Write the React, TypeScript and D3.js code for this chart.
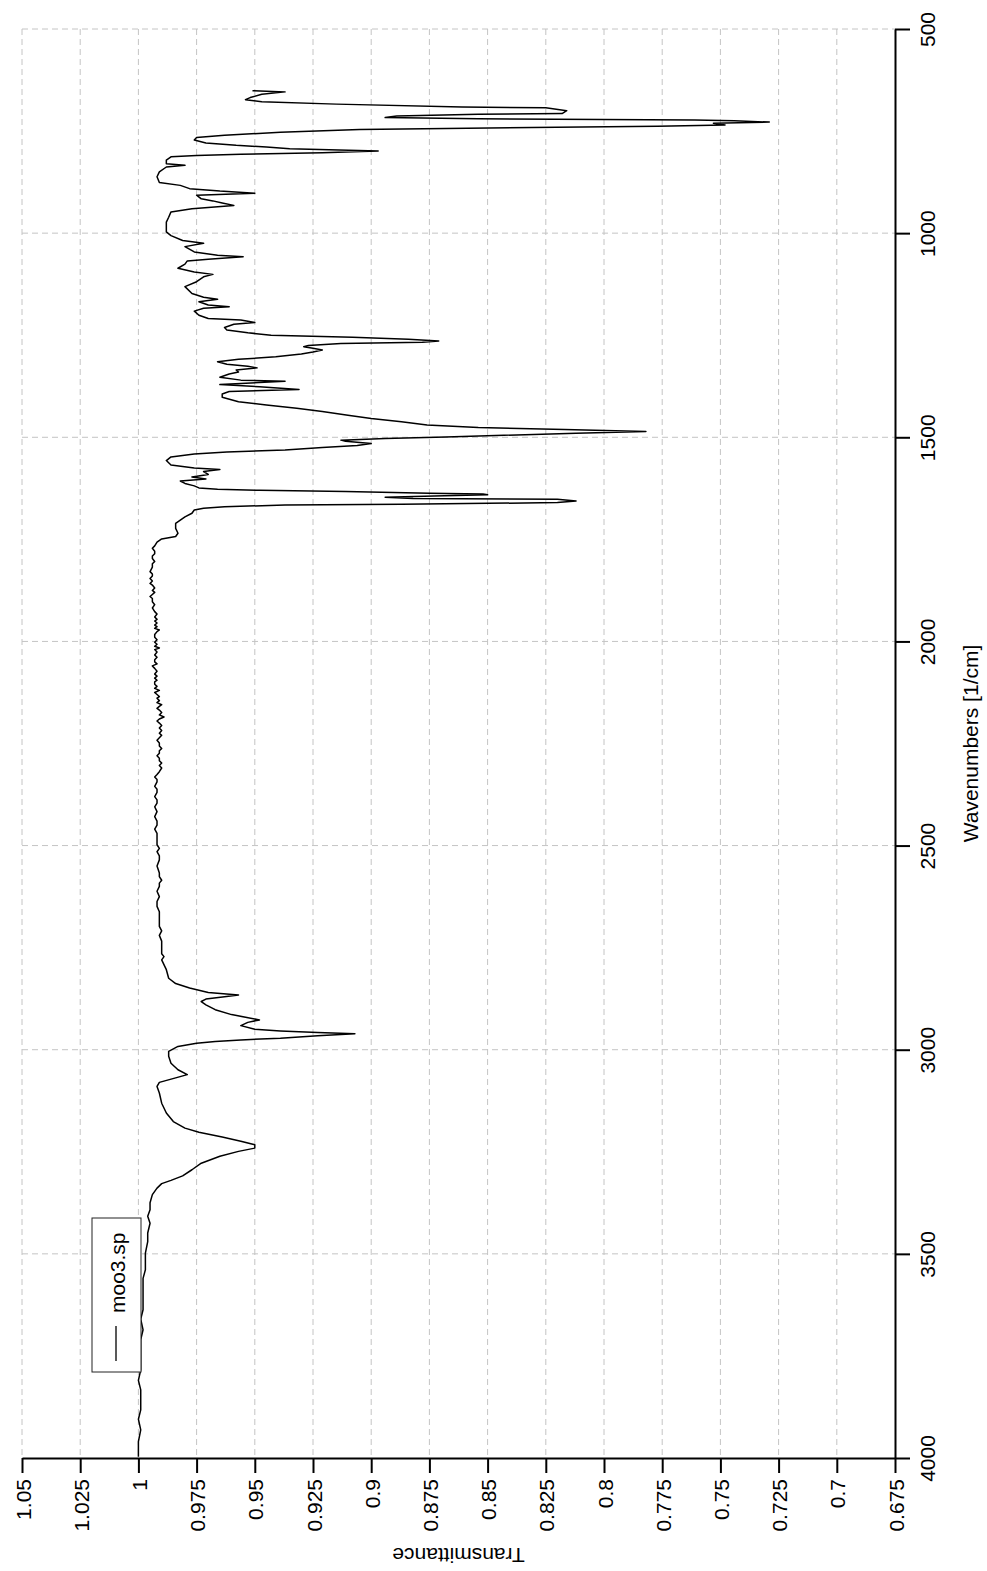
import React, { useRef, useEffect } from 'react';
import * as d3 from 'd3';

// IR spectrum of moo3.sp as [wavenumber, transmittance]
const fingerprint: [number, number][] = [
  [651, 0.951], [654, 0.937], [660, 0.947], [668, 0.952], [673, 0.954], [678, 0.947],
  [684, 0.915], [691, 0.861], [693, 0.825], [700, 0.816], [707, 0.818], [709, 0.854],
  [713, 0.889], [717, 0.894], [720, 0.854], [723, 0.761], [725, 0.744], [728, 0.729],
  [731, 0.753], [735, 0.748], [738, 0.777], [741, 0.831], [746, 0.905], [753, 0.939],
  [760, 0.963], [766, 0.975], [772, 0.976], [779, 0.971], [785, 0.958], [789, 0.945],
  [793, 0.935], [799, 0.897], [803, 0.921], [807, 0.956], [810, 0.975], [813, 0.986],
  [821, 0.988], [830, 0.988], [834, 0.980], [838, 0.988], [850, 0.991], [862, 0.992],
  [876, 0.991], [883, 0.982], [891, 0.978], [897, 0.965], [902, 0.950], [907, 0.975],
  [916, 0.973], [921, 0.968], [926, 0.964], [932, 0.959], [940, 0.977], [948, 0.986],
  [961, 0.987], [973, 0.988], [985, 0.988], [997, 0.988], [1006, 0.986], [1018, 0.981],
];

const midRange: [number, number][] = [
  [1025, 0.972], [1033, 0.980], [1046, 0.976], [1054, 0.966], [1058, 0.955], [1064, 0.970],
  [1068, 0.979], [1076, 0.980], [1086, 0.983], [1095, 0.976], [1101, 0.968], [1107, 0.972],
  [1119, 0.975], [1131, 0.980], [1148, 0.977], [1157, 0.972], [1162, 0.966], [1168, 0.974],
  [1176, 0.970], [1180, 0.961], [1184, 0.972], [1191, 0.976], [1201, 0.974], [1209, 0.970],
  [1213, 0.956], [1219, 0.950], [1223, 0.959], [1231, 0.963], [1237, 0.962], [1244, 0.953],
  [1250, 0.943], [1255, 0.908], [1260, 0.884], [1264, 0.871], [1267, 0.878], [1270, 0.913],
  [1275, 0.927], [1278, 0.929], [1282, 0.925], [1286, 0.921], [1291, 0.925], [1296, 0.930],
  [1303, 0.941], [1309, 0.957], [1315, 0.966], [1321, 0.962], [1326, 0.953], [1330, 0.949],
  [1335, 0.958], [1340, 0.957], [1345, 0.961], [1353, 0.965], [1360, 0.956], [1363, 0.937],
  [1368, 0.956], [1371, 0.965], [1376, 0.948], [1383, 0.931], [1388, 0.961], [1394, 0.964],
  [1402, 0.964], [1413, 0.957], [1421, 0.945], [1429, 0.932], [1437, 0.921], [1446, 0.910],
  [1454, 0.900], [1462, 0.887], [1470, 0.876], [1476, 0.854], [1481, 0.817], [1486, 0.782],
  [1490, 0.812], [1495, 0.843], [1499, 0.868], [1503, 0.894], [1507, 0.913], [1510, 0.911],
  [1515, 0.900], [1520, 0.906], [1525, 0.921], [1531, 0.937], [1536, 0.962], [1541, 0.976],
  [1548, 0.986], [1557, 0.988],
];

const carbonylRange: [number, number][] = [
  [1568, 0.986], [1575, 0.976], [1579, 0.965], [1584, 0.972], [1591, 0.970], [1597, 0.977],
  [1602, 0.971], [1607, 0.982], [1613, 0.980], [1619, 0.976], [1624, 0.974], [1627, 0.966],
  [1630, 0.948], [1633, 0.911], [1637, 0.875], [1639, 0.852], [1641, 0.850], [1644, 0.873],
  [1647, 0.894], [1650, 0.882], [1652, 0.820], [1656, 0.812], [1660, 0.820], [1664, 0.887],
  [1666, 0.937], [1670, 0.963], [1674, 0.972], [1678, 0.976], [1686, 0.977], [1695, 0.980],
  [1703, 0.982], [1711, 0.984], [1723, 0.984], [1735, 0.983], [1743, 0.984], [1749, 0.990],
  [1757, 0.992],
];

const flatRange: [number, number][] = [
  [1766, 0.993], [1772, 0.994], [1779, 0.993], [1785, 0.993], [1791, 0.994], [1797, 0.994],
  [1804, 0.993], [1810, 0.994], [1818, 0.994], [1829, 0.995], [1835, 0.994], [1840, 0.994],
  [1846, 0.995], [1852, 0.994], [1858, 0.995], [1862, 0.994], [1869, 0.993], [1875, 0.994],
  [1880, 0.993], [1885, 0.994], [1890, 0.995], [1895, 0.994], [1903, 0.994], [1910, 0.993],
  [1918, 0.994], [1927, 0.993], [1933, 0.992], [1940, 0.993], [1946, 0.992], [1950, 0.993],
  [1955, 0.992], [1960, 0.993], [1964, 0.992], [1968, 0.993], [1972, 0.991], [1976, 0.992],
  [1983, 0.993], [1990, 0.993], [1996, 0.992], [2002, 0.993], [2007, 0.992], [2012, 0.993],
  [2016, 0.991], [2020, 0.993], [2026, 0.992], [2033, 0.993], [2039, 0.992], [2045, 0.993],
  [2050, 0.993], [2055, 0.992], [2060, 0.994], [2066, 0.993], [2073, 0.992], [2080, 0.993],
  [2085, 0.992], [2090, 0.993], [2095, 0.992], [2099, 0.993], [2105, 0.993], [2110, 0.992],
  [2115, 0.993], [2120, 0.991], [2125, 0.993], [2130, 0.992], [2135, 0.991], [2139, 0.992],
  [2145, 0.991], [2150, 0.992], [2155, 0.990], [2159, 0.991], [2164, 0.992], [2168, 0.991],
  [2174, 0.990], [2180, 0.991], [2185, 0.989], [2190, 0.991], [2195, 0.992], [2200, 0.991],
  [2206, 0.990], [2212, 0.991], [2218, 0.990], [2225, 0.991], [2230, 0.990], [2236, 0.991],
  [2242, 0.992], [2249, 0.991], [2256, 0.991], [2262, 0.990], [2268, 0.991], [2274, 0.991],
  [2280, 0.992], [2286, 0.991], [2292, 0.991], [2298, 0.990], [2304, 0.991], [2310, 0.990],
  [2319, 0.991], [2326, 0.992], [2332, 0.993], [2338, 0.992], [2344, 0.992], [2355, 0.993],
  [2362, 0.992], [2370, 0.992], [2380, 0.993], [2388, 0.992], [2396, 0.992], [2405, 0.993],
  [2417, 0.992], [2429, 0.993], [2440, 0.992], [2450, 0.992], [2460, 0.993], [2470, 0.992],
  [2485, 0.992], [2498, 0.992], [2507, 0.991], [2515, 0.992], [2525, 0.991], [2535, 0.991],
  [2550, 0.992], [2567, 0.991], [2576, 0.991], [2585, 0.990], [2592, 0.991], [2600, 0.991],
  [2612, 0.992], [2625, 0.991], [2637, 0.992], [2649, 0.992], [2662, 0.991], [2675, 0.991],
  [2687, 0.991], [2698, 0.991], [2709, 0.990], [2720, 0.991], [2734, 0.990], [2747, 0.990],
  [2757, 0.990], [2765, 0.990], [2772, 0.989], [2780, 0.990],
];

const chRange: [number, number][] = [
  [2804, 0.988], [2825, 0.987], [2838, 0.984], [2849, 0.978], [2860, 0.970], [2866, 0.957],
  [2870, 0.963], [2876, 0.971], [2882, 0.973], [2890, 0.971], [2902, 0.967], [2914, 0.960],
  [2927, 0.948], [2933, 0.953], [2941, 0.956], [2950, 0.950], [2954, 0.939], [2958, 0.923],
  [2961, 0.907], [2966, 0.923], [2972, 0.939], [2976, 0.956], [2980, 0.967], [2984, 0.975],
  [2992, 0.983], [3004, 0.987], [3016, 0.987], [3033, 0.986], [3049, 0.983], [3061, 0.979],
  [3069, 0.984], [3080, 0.991], [3090, 0.992], [3106, 0.991], [3131, 0.990], [3155, 0.988],
];

const ohRange: [number, number][] = [
  [3176, 0.985], [3192, 0.980], [3202, 0.974], [3214, 0.964], [3224, 0.956], [3233, 0.950],
  [3241, 0.950], [3249, 0.957], [3261, 0.965], [3278, 0.973], [3294, 0.977], [3309, 0.981],
  [3320, 0.986], [3328, 0.990], [3339, 0.992], [3355, 0.994], [3375, 0.995], [3392, 0.995],
  [3408, 0.996], [3425, 0.995], [3449, 0.996], [3470, 0.996], [3498, 0.997], [3515, 0.997],
  [3539, 0.997], [3560, 0.998], [3588, 0.998], [3610, 0.998], [3637, 0.998], [3660, 0.999],
  [3686, 0.998], [3710, 0.999], [3735, 0.999], [3760, 0.999], [3784, 0.999], [3810, 1.000],
  [3833, 0.999], [3860, 0.999], [3882, 0.999], [3905, 1.000], [3931, 0.999], [3960, 1.000],
  [3997, 1.000],
];

const waveTicks = [500, 1000, 1500, 2000, 2500, 3000, 3500, 4000];
const transTicks = [1.05, 1.025, 1, 0.975, 0.95, 0.925, 0.9, 0.875, 0.85, 0.825, 0.8, 0.775, 0.75, 0.725, 0.7, 0.675];
const seriesName = 'moo3.sp';

const App = () => {
  const svgRef = useRef<SVGSVGElement>(null);
  const width = 987;
  const height = 1571;
  const font = '"Liberation Sans", Arial, sans-serif';

  useEffect(() => {
    const svg = d3.select(svgRef.current);
    svg.selectAll('*').remove();

    const y = d3.scaleLinear().domain([500, 4000]).range([29, 1458]);
    const x = d3.scaleLinear().domain([1.05, 0.675]).range([22, 895]);

    // grid
    const grid = svg.append('g').attr('stroke', '#c4c4c4').attr('stroke-dasharray', '6,4').attr('stroke-width', 1);
    grid.selectAll('line.v')
      .data(transTicks.slice(0, -1))
      .enter().append('line')
      .attr('x1', d => x(d)).attr('x2', d => x(d))
      .attr('y1', y(500)).attr('y2', y(4000));
    grid.selectAll('line.h')
      .data(waveTicks.slice(0, -1))
      .enter().append('line')
      .attr('y1', d => y(d)).attr('y2', d => y(d))
      .attr('x1', x(1.05)).attr('x2', x(0.675));

    // spectrum
    const data = [...fingerprint, ...midRange, ...carbonylRange, ...flatRange, ...chRange, ...ohRange];
    const line = d3.line<[number, number]>()
      .x(d => x(d[1]))
      .y(d => y(d[0]));
    svg.append('path')
      .datum(data)
      .attr('d', line)
      .attr('fill', 'none')
      .attr('stroke', '#000')
      .attr('stroke-width', 1.5)
      .attr('stroke-linejoin', 'round');

    // right axis (wavenumbers)
    const right = svg.append('g')
      .attr('transform', `translate(${x(0.675)},0)`)
      .call(d3.axisRight(y).tickValues(waveTicks).tickSize(15).tickSizeOuter(0).tickFormat(d => String(d)));
    right.select('.domain').attr('stroke-width', 2);
    right.selectAll('.tick line').attr('stroke-width', 2);
    right.selectAll('.tick text')
      .attr('x', 0).attr('y', 0).attr('dy', null)
      .attr('transform', 'translate(40,0) rotate(-90)')
      .attr('text-anchor', 'middle')
      .style('font-family', font).style('font-size', '21px').attr('fill', '#000');

    // bottom axis (transmittance)
    const bottom = svg.append('g')
      .attr('transform', `translate(0,${y(4000)})`)
      .call(d3.axisBottom(x).tickValues(transTicks).tickSize(15).tickSizeOuter(0).tickFormat(d => String(d)));
    bottom.select('.domain').attr('stroke-width', 2);
    bottom.selectAll('.tick line').attr('stroke-width', 2);
    bottom.selectAll('.tick text')
      .attr('x', 0).attr('y', 0).attr('dy', null)
      .attr('transform', 'translate(8,21) rotate(-90)')
      .attr('text-anchor', 'end')
      .style('font-family', font).style('font-size', '21px').attr('fill', '#000');

    // axis titles
    svg.append('text')
      .attr('transform', `translate(978,${(y(500) + y(4000)) / 2}) rotate(-90)`)
      .attr('text-anchor', 'middle')
      .style('font-family', font).style('font-size', '21px')
      .text('Wavenumbers [1/cm]');
    svg.append('text')
      .attr('transform', `translate(${(x(1.05) + x(0.675)) / 2},1548) rotate(180)`)
      .attr('text-anchor', 'middle')
      .style('font-family', font).style('font-size', '21px')
      .text('Transmittance');

    // legend
    const legend = svg.append('g');
    legend.append('rect')
      .attr('x', 92).attr('y', 1218).attr('width', 49).attr('height', 154)
      .attr('fill', '#fff').attr('stroke', '#222').attr('stroke-width', 1);
    legend.append('line')
      .attr('x1', 116).attr('x2', 116).attr('y1', 1326).attr('y2', 1361)
      .attr('stroke', '#222').attr('stroke-width', 1.5);
    legend.append('text')
      .attr('transform', 'translate(125,1313) rotate(-90)')
      .style('font-family', font).style('font-size', '21px')
      .text(seriesName);
  }, []);

  return (
    <div>
      <svg ref={svgRef} width={width} height={height}
        style={{ position: 'absolute', left: 0, top: 0, background: '#fff' }} />
    </div>
  );
};

export default App;
